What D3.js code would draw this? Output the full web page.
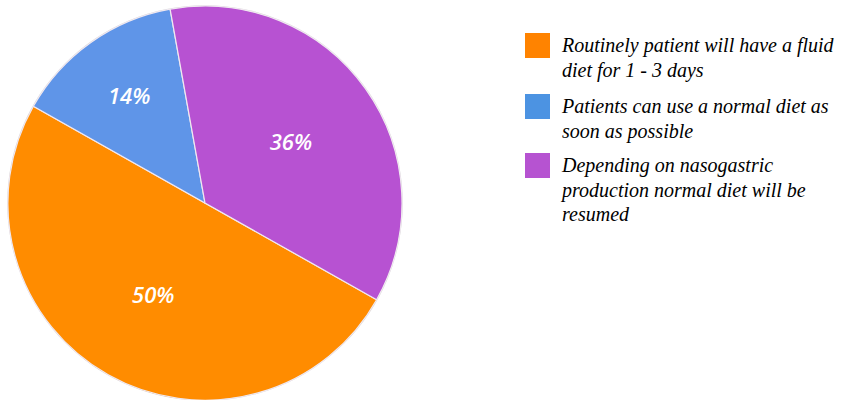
<!DOCTYPE html>
<html><head><meta charset="utf-8">
<script src="https://cdn.jsdelivr.net/npm/d3@7"></script>
</head>
<body style="margin:0">
<svg id="chart" width="853" height="400"></svg>
<script>
const categories = [
  "Routinely patient will have a fluid diet for 1 - 3 days",
  "Patients can use a normal diet as soon as possible",
  "Depending on nasogastric production normal diet will be resumed"
];
const legendLines = [
  ["Routinely patient will have a fluid", "diet for 1 - 3 days"],
  ["Patients can use a normal diet as", "soon as possible"],
  ["Depending on nasogastric", "production normal diet will be", "resumed"]
];
const values = [50, 14, 36];
const colors = ["#FF8C00", "#5F95E8", "#B752D2"];
const legendColors = ["#FF8300", "#4C93E2", "#B653D1"];

const svg = d3.select("#chart");

const legTops = [33, 94, 153];
categories.forEach((c, i) => {
  const top = legTops[i];
  svg.append("rect").attr("x", 525).attr("y", top).attr("width", 25).attr("height", 25)
    .attr("fill", legendColors[i]);
  legendLines[i].forEach((ln, j) => {
    svg.append("text")
      .attr("x", 562).attr("y", top + 19 + j * 24.5)
      .attr("font-family", "Liberation Serif")
      .attr("font-style", "italic")
      .attr("font-size", 20)
      .text(ln);
  });
});

const cx = 205, cy = 203, r = 197;
const startDeg = 119.4;
const pie = d3.pie().sort(null)
  .startAngle(startDeg * Math.PI / 180)
  .endAngle(startDeg * Math.PI / 180 + 2 * Math.PI);
const arcs = pie(values);
const arc = d3.arc().innerRadius(0).outerRadius(r);
const g = svg.append("g").attr("transform", `translate(${cx},${cy})`);

g.append("circle").attr("r", r + 0.8).attr("fill", "#d9d9d9");
g.selectAll("path.slice").data(arcs).enter().append("path")
  .attr("class", "slice")
  .attr("d", arc)
  .attr("fill", (d, i) => colors[i])
  .attr("stroke", "#f0e8f0")
  .attr("stroke-width", 1.2);

const total = d3.sum(values);
g.selectAll("text.lbl").data(arcs).enter().append("text")
  .attr("class", "lbl")
  .attr("transform", d => {
    const f = d.value < 20 ? 0.665 : 0.535;
    const a = (d.startAngle + d.endAngle) / 2;
    return `translate(${Math.sin(a) * r * f},${-Math.cos(a) * r * f})`;
  })
  .attr("text-anchor", "middle")
  .attr("dy", "0.36em")
  .attr("fill", "#fff")
  .attr("font-family", "Open Sans")
  .attr("font-style", "italic")
  .attr("font-weight", 600)
  .attr("font-size", 22)
  .text(d => Math.round(d.value / total * 100) + "%");
</script>
</body></html>
